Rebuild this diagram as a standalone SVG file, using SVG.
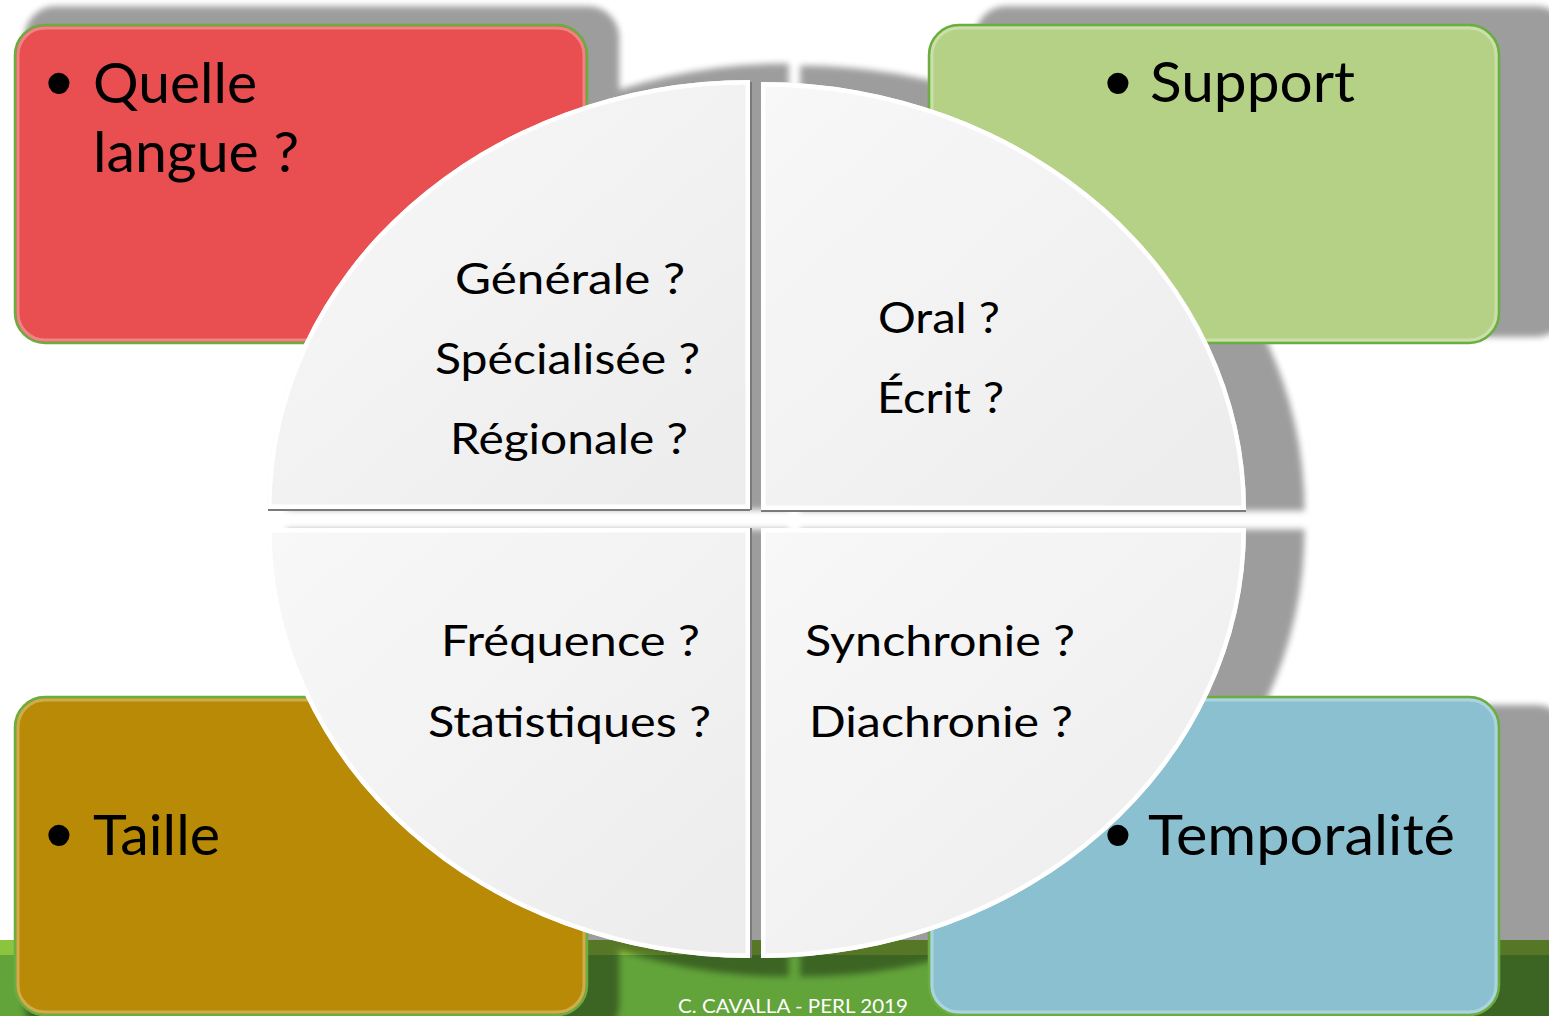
<svg xmlns="http://www.w3.org/2000/svg" width="1549" height="1016" viewBox="0 0 1549 1016">
<defs>
<style>
.box{stroke:#6AAE3F;stroke-width:2.5}
.hl{fill:none;stroke:#ffffff;stroke-opacity:0.3;stroke-width:3}
.bt{font-family:Lato,"Open Sans","Liberation Sans",sans-serif;font-size:57px;fill:#000}
.bu{font-family:"Liberation Sans",Arial,sans-serif;font-size:78px;fill:#000;text-anchor:middle}
.qt{font-family:Lato,"Open Sans","Liberation Sans",sans-serif;font-size:43px;fill:#000}
.ft{font-family:Lato,"Open Sans","Liberation Sans",sans-serif;font-size:20px;fill:#ffffff}
.quad{fill:url(#qg)}
.rim{fill:none;stroke:#ffffff;stroke-width:9}
.edge{fill:none;stroke:#7a7a7a;stroke-width:2}
</style>
<filter id="blur" x="-10%" y="-10%" width="120%" height="120%"><feGaussianBlur stdDeviation="3"/></filter>
<linearGradient id="qg" x1="0" y1="0" x2="1" y2="1"><stop offset="0" stop-color="#F8F8F8"/><stop offset="1" stop-color="#ECECEC"/></linearGradient>
<path id="p-tl" d="M 750 509 L 267 509 A 483 429 0 0 1 750 80 Z"/>
<path id="p-tr" d="M 761 510 L 761 82 A 485 428 0 0 1 1246 510 Z"/>
<path id="p-bl" d="M 750 528 L 750 958 A 483 430 0 0 1 267 528 Z"/>
<path id="p-br" d="M 761 528 L 1246 528 A 485 430 0 0 1 761 958 Z"/>
<clipPath id="c-tl"><use href="#p-tl"/></clipPath>
<clipPath id="c-tr"><use href="#p-tr"/></clipPath>
<clipPath id="c-bl"><use href="#p-bl"/></clipPath>
<clipPath id="c-br"><use href="#p-br"/></clipPath>
</defs>

<rect x="0" y="0" width="1549" height="1016" fill="#ffffff"/>
<g id="strip">
<rect x="0" y="940" width="1549" height="15" fill="#8CC43F"/>
<rect x="0" y="955" width="1549" height="61" fill="#62A33A"/>
</g>

<g id="shadows" opacity="0.38" filter="url(#blur)">
<g transform="matrix(1.04 0 0 1.04 8.76 -19.76)" fill="#000">
<rect x="15" y="25" width="572" height="318" rx="30"/>
<rect x="929" y="25" width="570" height="318" rx="30"/>
<rect x="15" y="697" width="572" height="318" rx="30"/>
<rect x="929" y="697" width="570" height="318" rx="30"/>
<use href="#p-tl"/><use href="#p-tr"/><use href="#p-bl"/><use href="#p-br"/>
</g>
</g>

<g id="node-langue">
<rect class="box" x="15" y="25" width="572" height="318" rx="30" fill="#E94F51"/>
<rect class="hl" x="18" y="28" width="566" height="312" rx="27"/>
<text class="bu" x="59" y="109">•</text>
<text class="bt" x="93" y="103" textLength="164" lengthAdjust="spacingAndGlyphs">Quelle</text>
<text class="bt" x="93" y="172" textLength="206" lengthAdjust="spacingAndGlyphs">langue ?</text>
</g>
<g id="node-support">
<rect class="box" x="929" y="25" width="570" height="318" rx="30" fill="#B4D186"/>
<rect class="hl" x="932" y="28" width="564" height="312" rx="27"/>
<text class="bu" x="1118" y="109">•</text>
<text class="bt" x="1150" y="102" textLength="205" lengthAdjust="spacingAndGlyphs">Support</text>
</g>
<g id="node-taille">
<rect class="box" x="15" y="697" width="572" height="318" rx="30" fill="#B98A05"/>
<rect class="hl" x="18" y="700" width="566" height="312" rx="27"/>
<text class="bu" x="59" y="861">•</text>
<text class="bt" x="93" y="855" textLength="127" lengthAdjust="spacingAndGlyphs">Taille</text>
</g>
<g id="node-temporalite">
<rect class="box" x="929" y="697" width="570" height="318" rx="30" fill="#8AC0CF"/>
<rect class="hl" x="932" y="700" width="564" height="312" rx="27"/>
<text class="bu" x="1118" y="861">•</text>
<text class="bt" x="1148" y="855" textLength="307" lengthAdjust="spacingAndGlyphs">Temporalité</text>
</g>

<g id="quad-tl">
<use href="#p-tl" class="quad"/>
<use href="#p-tl" class="rim" clip-path="url(#c-tl)"/>
<line class="edge" x1="268" y1="510" x2="750" y2="510"/>
<line class="edge" x1="751" y1="82" x2="751" y2="510"/>
<text class="qt" x="455" y="294" textLength="230" lengthAdjust="spacingAndGlyphs">Générale ?</text>
<text class="qt" x="435" y="374" textLength="265" lengthAdjust="spacingAndGlyphs">Spécialisée ?</text>
<text class="qt" x="450" y="454" textLength="238" lengthAdjust="spacingAndGlyphs">Régionale ?</text>
</g>
<g id="quad-tr">
<use href="#p-tr" class="quad"/>
<use href="#p-tr" class="rim" clip-path="url(#c-tr)"/>
<line class="edge" x1="761" y1="511" x2="1246" y2="511"/>
<text class="qt" x="878" y="333" textLength="122" lengthAdjust="spacingAndGlyphs">Oral ?</text>
<text class="qt" x="877" y="413" textLength="127" lengthAdjust="spacingAndGlyphs">Écrit ?</text>
</g>
<g id="quad-bl">
<use href="#p-bl" class="quad"/>
<use href="#p-bl" class="rim" clip-path="url(#c-bl)"/>
<line class="edge" x1="751" y1="528" x2="751" y2="958"/>
<text class="qt" x="441" y="656" textLength="259" lengthAdjust="spacingAndGlyphs">Fréquence ?</text>
<text class="qt" x="428" y="737" textLength="283" lengthAdjust="spacingAndGlyphs">Statistiques ?</text>
</g>
<g id="quad-br">
<use href="#p-br" class="quad"/>
<use href="#p-br" class="rim" clip-path="url(#c-br)"/>
<text class="qt" x="805" y="656" textLength="270" lengthAdjust="spacingAndGlyphs">Synchronie ?</text>
<text class="qt" x="809" y="737" textLength="264" lengthAdjust="spacingAndGlyphs">Diachronie ?</text>
</g>

<g id="connectors"/>

<text class="ft" x="678" y="1013" textLength="230" lengthAdjust="spacingAndGlyphs">C. CAVALLA - PERL 2019</text>
</svg>
